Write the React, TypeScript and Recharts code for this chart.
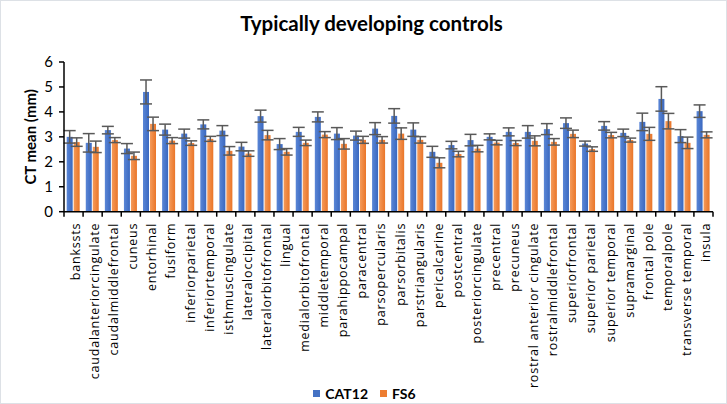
import { BarChart, Bar, XAxis, YAxis, ErrorBar, Label } from 'recharts';

const BLUE = '#4472C4';
const ORANGE = '#ED7D31';
const ERR_COLOR = '#595959';
const FONT = 'Lato, "Open Sans", sans-serif';
const TICK_FONT = '"Open Sans", sans-serif';

const regions = [
  'bankssts', 'caudalanteriorcingulate', 'caudalmiddlefrontal', 'cuneus', 'entorhinal',
  'fusiform', 'inferiorparietal', 'inferiortemporal', 'isthmuscingulate', 'lateraloccipital',
  'lateralorbitofrontal', 'lingual', 'medialorbitofrontal', 'middletemporal', 'parahippocampal',
  'paracentral', 'parsopercularis', 'parsorbitalis', 'parstriangularis', 'pericalcarine',
  'postcentral', 'posteriorcingulate', 'precentral', 'precuneus', 'rostral anterior cingulate',
  'rostralmiddlefrontal', 'superiorfrontal', 'superior parietal', 'superior temporal', 'supramarginal',
  'frontal pole', 'temporalpole', 'transverse temporal', 'insula',
];

const cat12Mean = [
  3.0, 2.76, 3.27, 2.53, 4.8, 3.29, 3.13, 3.5, 3.25, 2.61,
  3.83, 2.71, 3.2, 3.8, 3.13, 3.05, 3.33, 3.84, 3.29, 2.4,
  2.67, 2.87, 3.0, 3.2, 3.2, 3.31, 3.55, 2.73, 3.44, 3.16,
  3.6, 4.52, 3.03, 4.03,
];
const cat12Sd = [
  0.25, 0.37, 0.15, 0.2, 0.48, 0.22, 0.18, 0.18, 0.2, 0.17,
  0.24, 0.22, 0.18, 0.2, 0.24, 0.18, 0.24, 0.29, 0.27, 0.22,
  0.15, 0.23, 0.12, 0.16, 0.25, 0.22, 0.21, 0.1, 0.17, 0.15,
  0.35, 0.49, 0.26, 0.25,
];
const fs6Mean = [
  2.79, 2.6, 2.87, 2.24, 3.52, 2.85, 2.75, 2.92, 2.44, 2.33,
  3.07, 2.4, 2.76, 3.09, 2.72, 2.88, 2.88, 3.13, 2.88, 1.96,
  2.31, 2.53, 2.77, 2.75, 2.84, 2.8, 3.12, 2.51, 3.07, 2.87,
  3.12, 3.63, 2.76, 3.08,
];
const fs6Sd = [
  0.17, 0.23, 0.1, 0.15, 0.27, 0.12, 0.09, 0.1, 0.17, 0.11,
  0.19, 0.13, 0.11, 0.12, 0.21, 0.14, 0.13, 0.23, 0.13, 0.2,
  0.11, 0.13, 0.09, 0.1, 0.2, 0.13, 0.15, 0.09, 0.11, 0.08,
  0.26, 0.31, 0.23, 0.12,
];
const yTicks = [0, 1, 2, 3, 4, 5, 6];

const data = regions.map((region, i) => ({
  region,
  CAT12: cat12Mean[i],
  cat12Err: cat12Sd[i],
  FS6: fs6Mean[i],
  fs6Err: fs6Sd[i],
}));

const WIDTH = 727;
const HEIGHT = 404;
const MARGIN = { top: 61, right: 15, left: 0, bottom: 0 };
const Y_AXIS_W = 63;
const BAND = (WIDTH - MARGIN.left - MARGIN.right - Y_AXIS_W) / regions.length;

// excel style: tick marks sit between categories, labels rotated
function CategoryTick(props: any) {
  const { x, y, payload, index } = props;
  const half = BAND / 2;
  return (
    <g>
      <line x1={x - half} x2={x - half} y1={y - 5} y2={y} stroke="#000" strokeWidth={1.5} />
      {index === regions.length - 1 && (
        <line x1={x + half} x2={x + half} y1={y - 5} y2={y} stroke="#000" strokeWidth={1.5} />
      )}
      <text
        transform={`translate(${x + 2},${y + 6}) rotate(-90)`}
        textAnchor="end"
        dominantBaseline="central"
        fontSize={12.5}
        letterSpacing={0.8}
        fontFamily={TICK_FONT}
        fill="#000"
      >
        {payload.value}
      </text>
    </g>
  );
}

export default function App() {
  return (
    <div
      style={{
        position: 'absolute', left: 0, top: 0, width: WIDTH, height: HEIGHT,
        background: '#fff', boxSizing: 'border-box', border: '1px solid #dde1e6', fontFamily: FONT,
      }}
    >
      <div
        style={{
          position: 'absolute', top: 10, left: 7, width: WIDTH, textAlign: 'center',
          fontSize: 20.5, fontWeight: 700, color: '#000',
        }}
      >
        Typically developing controls
      </div>
      <div style={{ position: 'absolute', left: 0, top: 0 }}>
        <BarChart width={WIDTH} height={HEIGHT} data={data} margin={MARGIN} barCategoryGap="14%" barGap={1}>
          <defs>
            <linearGradient id="blueGrad" x1="0" y1="0" x2="1" y2="0">
              <stop offset="0%" stopColor="#5A86D6" />
              <stop offset="100%" stopColor="#3A68C0" />
            </linearGradient>
            <linearGradient id="orangeGrad" x1="0" y1="0" x2="1" y2="0">
              <stop offset="0%" stopColor="#F49A5A" />
              <stop offset="100%" stopColor="#EA7528" />
            </linearGradient>
          </defs>
          <XAxis
            dataKey="region"
            interval={0}
            height={HEIGHT - 210.7}
            tick={<CategoryTick />}
            tickLine={false}
            tickSize={5}
            tickMargin={0}
            axisLine={{ stroke: '#000', strokeWidth: 1.5 }}
          />
          <YAxis
            width={Y_AXIS_W}
            domain={[0, 6]}
            ticks={yTicks}
            tickSize={5}
            tickMargin={6}
            tick={{ fill: '#000', fontSize: 15, fontFamily: FONT }}
            tickLine={{ stroke: '#000', strokeWidth: 1.5 }}
            axisLine={{ stroke: '#000', strokeWidth: 1.5 }}
          >
            <Label
              value="CT mean (mm)"
              angle={-90}
              position="center"
              dx={-2}
              style={{ fontSize: 15, fontWeight: 700, fill: '#000', fontFamily: FONT }}
            />
          </YAxis>
          <Bar dataKey="CAT12" fill="url(#blueGrad)" isAnimationActive={false}>
            <ErrorBar dataKey="cat12Err" width={6} stroke={ERR_COLOR} strokeWidth={1.5} />
          </Bar>
          <Bar dataKey="FS6" fill="url(#orangeGrad)" isAnimationActive={false}>
            <ErrorBar dataKey="fs6Err" width={6} stroke={ERR_COLOR} strokeWidth={1.5} />
          </Bar>
        </BarChart>
      </div>
      <div
        style={{
          position: 'absolute', top: 384, left: 0, width: WIDTH, display: 'flex',
          justifyContent: 'center', gap: 12, fontSize: 14, fontWeight: 700, color: '#000',
        }}
      >
        <span style={{ display: 'flex', alignItems: 'center', gap: 5 }}>
          <span style={{ width: 7, height: 7, background: BLUE, display: 'inline-block' }} />
          CAT12
        </span>
        <span style={{ display: 'flex', alignItems: 'center', gap: 5 }}>
          <span style={{ width: 7, height: 7, background: ORANGE, display: 'inline-block' }} />
          FS6
        </span>
      </div>
    </div>
  );
}
